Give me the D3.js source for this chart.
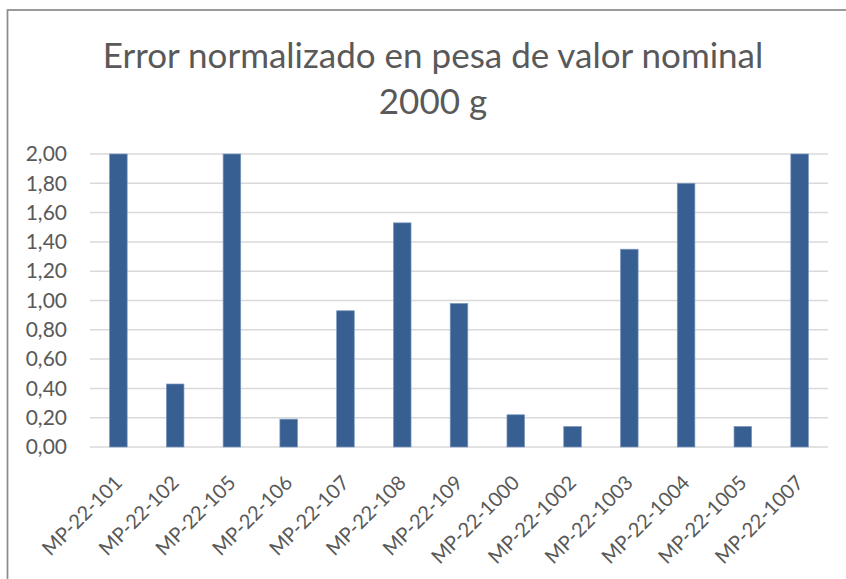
<!DOCTYPE html>
<html>
<head>
<meta charset="utf-8">
<script src="https://cdn.jsdelivr.net/npm/d3@7"></script>
<style>
  body { margin: 0; background: #fff; }
  svg { display: block; }
  text { font-family: Lato, "Open Sans", sans-serif; fill: #595959; }
</style>
</head>
<body>
<div id="chart"></div>
<script>
const titleLines = ['Error normalizado en pesa de valor nominal', '2000 g']

const muestras = [
  'MP-22-101', 'MP-22-102', 'MP-22-105', 'MP-22-106', 'MP-22-107',
  'MP-22-108', 'MP-22-109', 'MP-22-1000', 'MP-22-1002', 'MP-22-1003',
  'MP-22-1004', 'MP-22-1005', 'MP-22-1007'
]
const errorNormalizado = [2.00, 0.43, 2.00, 0.19, 0.93, 1.53, 0.98, 0.22, 0.14, 1.35, 1.80, 0.14, 2.00]
const yTicks = [0, 0.2, 0.4, 0.6, 0.8, 1.0, 1.2, 1.4, 1.6, 1.8, 2.0]

const W = 846, H = 579
const plot = { left: 90, right: 828, top: 154, bottom: 447 }

const es = d3.formatLocale({ decimal: ',', thousands: '.', grouping: [3], currency: ['', ' €'] })
const fmt = es.format('.2f')

const svg = d3.select('#chart').append('svg')
    .attr('width', W)
    .attr('height', H)

svg.append('rect')
    .attr('width', W).attr('height', H)
    .attr('fill', '#fff')

// chart area border (only top & left visible in the crop)
svg.append('rect')
    .attr('x', 7.5).attr('y', 10)
    .attr('width', 1000).attr('height', 1000)
    .attr('fill', 'none')
    .attr('stroke', '#8c8c8c')
    .attr('stroke-width', 1.75)

const x = d3.scaleBand()
    .domain(muestras)
    .range([plot.left, plot.right])
    .paddingInner(0.69)
    .paddingOuter(0.345)

const y = d3.scaleLinear()
    .domain([0, 2])
    .range([plot.bottom, plot.top])

// gridlines
svg.append('g')
    .selectAll('line')
    .data(yTicks)
    .join('line')
    .attr('x1', plot.left).attr('x2', plot.right)
    .attr('y1', d => y(d)).attr('y2', d => y(d))
    .attr('stroke', '#d9d9d9')
    .attr('stroke-width', 1.5)

// bars
svg.append('g')
    .selectAll('rect')
    .data(errorNormalizado)
    .join('rect')
    .attr('x', (d, i) => x(muestras[i]))
    .attr('y', d => y(d))
    .attr('width', x.bandwidth())
    .attr('height', d => y(0) - y(d))
    .attr('fill', '#375f91')
    .attr('stroke', '#7b98c0')
    .attr('stroke-width', 0.7)

// y axis
const yAxis = svg.append('g')
    .attr('transform', `translate(${plot.left},0)`)
    .call(d3.axisLeft(y).tickValues(yTicks).tickFormat(fmt).tickSize(0).tickPadding(23))
yAxis.select('.domain').remove()
yAxis.selectAll('text')
    .style('font-size', '21px')
    .style('fill', '#595959')

// x axis
const xAxis = svg.append('g')
    .attr('transform', `translate(0,${plot.bottom})`)
    .call(d3.axisBottom(x).tickSize(0).tickPadding(0))
xAxis.select('.domain').remove()
xAxis.selectAll('text')
    .style('font-size', '20px')
    .style('fill', '#595959')
    .attr('text-anchor', 'end')
    .attr('dy', null)
    .attr('y', 0)
    .attr('transform', 'translate(5,37) rotate(-45)')

// title
const title = svg.append('g')
title.selectAll('text')
    .data(titleLines)
    .join('text')
    .attr('x', 433)
    .attr('y', (d, i) => 68 + i * 46)
    .attr('text-anchor', 'middle')
    .style('font-size', '35px')
    .text(d => d)
</script>
</body>
</html>
